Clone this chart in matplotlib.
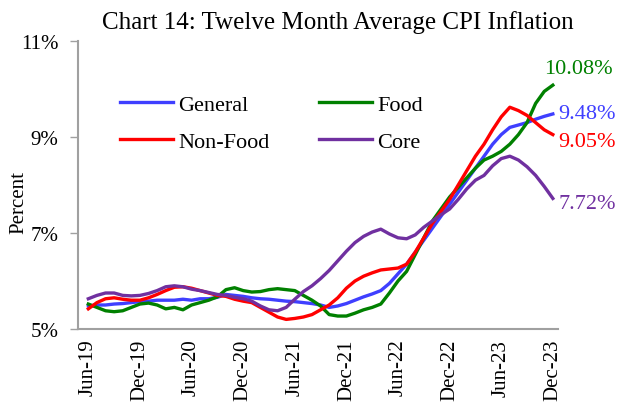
import matplotlib.pyplot as plt
import numpy as np
import pandas as pd
from matplotlib.ticker import FuncFormatter

months = pd.date_range('2019-06-01', '2023-12-01', freq='MS')

general = [5.48, 5.50, 5.50, 5.52, 5.53, 5.55, 5.57, 5.58, 5.60, 5.60,
           5.60, 5.62, 5.60, 5.63, 5.63, 5.66, 5.72, 5.70, 5.68, 5.65,
           5.63, 5.62, 5.60, 5.58, 5.57, 5.55, 5.53, 5.50, 5.45, 5.48,
           5.53, 5.60, 5.67, 5.73, 5.80, 5.95, 6.15, 6.35, 6.60, 6.85,
           7.10, 7.35, 7.60, 7.85, 8.10, 8.35, 8.60, 8.85, 9.05, 9.20,
           9.25, 9.30, 9.37, 9.43, 9.48]
food = [5.52, 5.45, 5.38, 5.36, 5.38, 5.45, 5.52, 5.54, 5.50, 5.42,
        5.45, 5.40, 5.50, 5.55, 5.60, 5.67, 5.82, 5.86, 5.80, 5.77,
        5.78, 5.82, 5.84, 5.82, 5.80, 5.70, 5.60, 5.48, 5.30, 5.27,
        5.27, 5.33, 5.40, 5.45, 5.52, 5.75, 6.00, 6.20, 6.55, 6.90,
        7.25, 7.50, 7.75, 7.95, 8.15, 8.35, 8.52, 8.60, 8.70, 8.85,
        9.05, 9.30, 9.70, 9.95, 10.08]
non_food = [5.42, 5.55, 5.63, 5.65, 5.62, 5.60, 5.60, 5.65, 5.72, 5.80,
            5.87, 5.88, 5.85, 5.80, 5.75, 5.70, 5.68, 5.62, 5.58, 5.55,
            5.45, 5.35, 5.25, 5.20, 5.22, 5.25, 5.30, 5.40, 5.50, 5.65,
            5.85, 6.00, 6.10, 6.17, 6.23, 6.25, 6.27, 6.35, 6.60, 6.90,
            7.20, 7.45, 7.70, 8.00, 8.30, 8.60, 8.85, 9.15, 9.42, 9.62,
            9.55, 9.45, 9.30, 9.15, 9.05]
core = [5.63, 5.70, 5.75, 5.75, 5.70, 5.69, 5.70, 5.74, 5.80, 5.88,
        5.90, 5.88, 5.83, 5.80, 5.76, 5.72, 5.70, 5.66, 5.63, 5.58,
        5.48, 5.40, 5.38, 5.45, 5.62, 5.78, 5.90, 6.05, 6.22, 6.42,
        6.62, 6.80, 6.93, 7.02, 7.08, 6.98, 6.90, 6.88, 6.96, 7.12,
        7.25, 7.38, 7.50, 7.70, 7.92, 8.10, 8.20, 8.40, 8.55, 8.60,
        8.52, 8.38, 8.20, 7.97, 7.72]

series = [('General', general, '#3f3fff'),
          ('Food', food, '#008000'),
          ('Non-Food', non_food, '#ff0000'),
          ('Core', core, '#7030a0')]

plt.rcParams['font.family'] = ['Liberation Serif', 'DejaVu Serif']

fig = plt.figure(figsize=(6.19, 4.10), dpi=100)
ax = fig.add_axes([78 / 619, 1 - 330 / 410, 480 / 619, 288 / 410])

x = np.arange(len(months))
lines = {}
for name, vals, col in series:
    lines[name], = ax.plot(x, vals, color=col, lw=2.4, label=name,
                           solid_joinstyle='round')

ax.set_xlim(-1.2, 54.6)
ax.set_ylim(5, 11)
ax.set_yticks([5, 7, 9, 11])
ax.yaxis.set_major_formatter(FuncFormatter(lambda v, p: '%d%%' % v))
ticks = x[::6]
ax.set_xticks(ticks)
ax.set_xticklabels([m.strftime('%b-%y') for m in months[::6]], rotation=90)
ax.tick_params(axis='x', length=0, pad=7, labelsize=15)
ax.tick_params(axis='y', length=6, width=1, color='#a0a0a0', labelsize=15, pad=8)

for s in ['top', 'right']:
    ax.spines[s].set_visible(False)
for s in ['left', 'bottom']:
    ax.spines[s].set_color('#a0a0a0')
    ax.spines[s].set_linewidth(1.5)

fig.text(19 / 619, 1 - 203 / 410, 'Percent', rotation=90, fontsize=15,
         ha='center', va='center')
fig.text(0.545, 0.945, 'Chart 14: Twelve Month Average CPI Inflation',
         ha='center', va='center', fontsize=18)

handles = [lines['General'], lines['Non-Food'], lines['Food'], lines['Core']]
ax.legend(handles=handles, ncol=2, frameon=False, fontsize=16,
          loc='upper left', bbox_to_anchor=(0.045, 0.885),
          handlelength=2.4, handletextpad=0.25, columnspacing=2.2,
          labelspacing=0.75)

last = len(months) - 1
offsets = {'General': (0, 0), 'Food': (-10, 0.34), 'Non-Food': (0, -0.15), 'Core': (0, -0.1)}
for name, vals, col in series:
    dx, dy = offsets[name]
    ax.annotate('%.2f%%' % vals[-1], (last, vals[-1] + dy), xytext=(4 + dx, 0),
                textcoords='offset points', color=col, fontsize=16,
                va='center', ha='left', annotation_clip=False)

fig.savefig('out.png', dpi=100)
